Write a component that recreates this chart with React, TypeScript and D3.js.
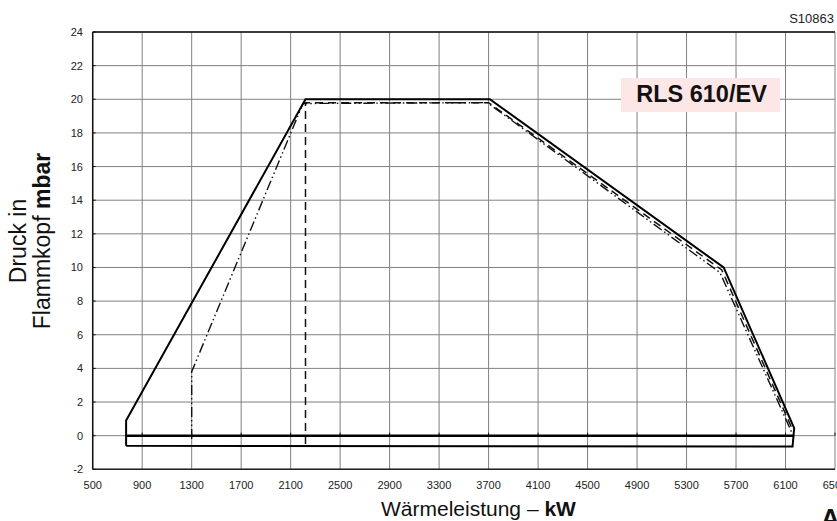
import React from "react";
import * as d3 from "d3";

const xTicks = [500, 900, 1300, 1700, 2100, 2500, 2900, 3300, 3700, 4100, 4500, 4900, 5300, 5700, 6100, 6500];
const yTicks = [-2, 0, 2, 4, 6, 8, 10, 12, 14, 16, 18, 20, 22, 24];

const solidX = [770, 770, 2220, 3710, 5600, 6170, 6157, 770];
const solidY = [-0.6, 0.9, 20, 20, 10, 0.45, -0.65, -0.6];

const zeroX = [770, 6165];
const zeroY = [0, 0];

const dashedX = [2220, 2220, 3700, 5585, 6160];
const dashedY = [-0.5, 19.8, 19.8, 9.85, 0.3];

const dashDotX = [1300, 1300, 2200, 3690, 5570, 6150];
const dashDotY = [-0.2, 3.8, 19.75, 19.8, 9.7, 0.2];

const W = 837;
const H = 521;

export default function App() {
  const x = d3.scaleLinear().domain([500, 6500]).range([92.7, 835]);
  const y = d3.scaleLinear().domain([-2, 24]).range([469.3, 32]);
  const line = d3
    .line<[number, number]>()
    .x((d) => x(d[0]))
    .y((d) => y(d[1]));
  const pts = (xs: number[], ys: number[]) => xs.map((v, i) => [v, ys[i]] as [number, number]);

  const font = "'Liberation Sans', Arial, sans-serif";

  return (
    <div style={{ position: "absolute", left: 0, top: 0 }}>
      <svg width={W} height={H} style={{ display: "block" }} fontFamily={font}>
        <rect x={0} y={0} width={W} height={H} fill="#fff" />
        {/* grid */}
        {xTicks.map((t) => (
          <line key={"gx" + t} x1={x(t)} x2={x(t)} y1={y(24)} y2={y(-2)} stroke="#808080" strokeWidth={1} />
        ))}
        {yTicks.map((t) => (
          <line key={"gy" + t} x1={x(500)} x2={x(6500)} y1={y(t)} y2={y(t)} stroke="#808080" strokeWidth={1} />
        ))}
        {/* frame */}
        <line x1={x(500)} x2={x(6500)} y1={y(24)} y2={y(24)} stroke="#111" strokeWidth={1.5} />
        <line x1={x(500)} x2={x(6500)} y1={y(-2)} y2={y(-2)} stroke="#222" strokeWidth={1.5} />
        <line x1={x(500)} x2={x(500)} y1={y(24)} y2={y(-2)} stroke="#111" strokeWidth={1.5} />
        {/* small ticks */}
        {yTicks.map((t) => (
          <line key={"ty" + t} x1={x(500)} x2={x(500) + 3} y1={y(t)} y2={y(t)} stroke="#111" strokeWidth={1} />
        ))}
        {xTicks.map((t) => (
          <line key={"tx" + t} x1={x(t)} x2={x(t)} y1={y(0)} y2={y(0) - 3} stroke="#111" strokeWidth={1} />
        ))}
        {/* legend box */}
        <rect x={621} y={78} width={159} height={34} fill="#fde6e6" />
        <text x={701.5} y={102} textAnchor="middle" fontSize={23.5} fontWeight="bold" fill="#111">
          RLS 610/EV
        </text>
        {/* curves */}
        <path d={line(pts(dashDotX, dashDotY)) || ""} fill="none" stroke="#111" strokeWidth={1.4} strokeDasharray="10,3,1.5,3,1.5,3" />
        <path d={line(pts(dashedX, dashedY)) || ""} fill="none" stroke="#111" strokeWidth={1.5} strokeDasharray="8,5" />
        <path d={line(pts(solidX, solidY)) || ""} fill="none" stroke="#000" strokeWidth={2} strokeLinejoin="miter" />
        <path d={line(pts(zeroX, zeroY)) || ""} fill="none" stroke="#000" strokeWidth={2.5} />
        {/* tick labels */}
        {yTicks.map((t) => (
          <text key={"ly" + t} x={83} y={y(t) + 4} textAnchor="end" fontSize={11} fill="#222">
            {t}
          </text>
        ))}
        {xTicks.map((t) => (
          <text key={"lx" + t} x={x(t)} y={489} textAnchor="middle" fontSize={11} fill="#222">
            {t}
          </text>
        ))}
        {/* axis titles */}
        <text x={381} y={516} fontSize={21} fill="#111">
          Wärmeleistung – <tspan fontWeight="bold">kW</tspan>
        </text>
        <text transform="translate(26,241) rotate(-90)" textAnchor="middle" fontSize={23} fill="#111">
          Druck in
        </text>
        <text transform="translate(50,241) rotate(-90)" textAnchor="middle" fontSize={23} fill="#111">
          Flammkopf <tspan fontWeight="bold">mbar</tspan>
        </text>
        <text x={834} y={23} textAnchor="end" fontSize={13} fill="#222">
          S10863
        </text>
        <text x={821} y={527} fontSize={26} fontWeight="bold" fill="#111">
          A
        </text>
      </svg>
    </div>
  );
}
